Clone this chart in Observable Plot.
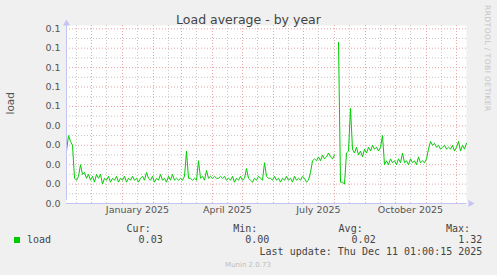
<!DOCTYPE html>
<html>
<head>
<meta charset="utf-8">
<script src="https://cdn.jsdelivr.net/npm/d3@7"></script>
<script src="https://cdn.jsdelivr.net/npm/@observablehq/plot@0.6"></script>
<style>
  html, body { margin: 0; padding: 0; background: #f0f0f0; }
  #chart { width: 497px; height: 275px; position: relative; }
  svg { display: block; }
</style>
</head>
<body>
<div id="chart"></div>
<script>
// ---- data ----
const title = "Load average - by year";
const yAxisTitle = "load";
const seriesName = "load";
const rangeStart = Date.UTC(2024, 10, 6, 1, 0, 15);
const rangeEnd = Date.UTC(2025, 11, 11, 1, 0, 15);
const stepDays = 2;
const loadValues = [
  0.027, 0.035, 0.032, 0.030, 0.013,
  0.012, 0.014, 0.020, 0.015, 0.016, 0.013, 0.015, 0.012, 0.014, 0.011,
  0.015, 0.013, 0.015, 0.010, 0.013, 0.012, 0.014, 0.011, 0.013, 0.012,
  0.014, 0.011, 0.013, 0.012, 0.014, 0.011, 0.013, 0.012, 0.014, 0.012,
  0.013, 0.011, 0.013, 0.014, 0.012, 0.016, 0.013, 0.012, 0.014, 0.011,
  0.013, 0.012, 0.015, 0.012, 0.013, 0.011, 0.014, 0.012, 0.015, 0.012,
  0.013, 0.012, 0.013, 0.012, 0.014, 0.027, 0.013, 0.013, 0.012, 0.013,
  0.012, 0.022, 0.013, 0.014, 0.012, 0.017, 0.013, 0.014, 0.013, 0.014,
  0.013, 0.013, 0.014, 0.013, 0.014, 0.012, 0.013, 0.012, 0.014, 0.011,
  0.013, 0.012, 0.014, 0.012, 0.013, 0.018, 0.013, 0.012, 0.011, 0.013,
  0.012, 0.014, 0.013, 0.012, 0.021, 0.014, 0.013, 0.013, 0.012, 0.014,
  0.012, 0.013, 0.011, 0.013, 0.012, 0.014, 0.012, 0.013, 0.011, 0.014,
  0.012, 0.013, 0.012, 0.014, 0.013, 0.011, 0.012, 0.016, 0.022, 0.023,
  0.022, 0.024, 0.022, 0.025, 0.023, 0.024, 0.026, 0.024, 0.023, 0.025,
  null, 0.083, 0.011, 0.011, 0.010, 0.026, 0.027, 0.049, 0.028, 0.026,
  0.029, 0.025, 0.027, 0.024, 0.028, 0.026, 0.029, 0.027, 0.030, 0.028,
  0.029, 0.027, 0.029, 0.035, 0.020, 0.022, 0.020, 0.023, 0.021, 0.022,
  0.020, 0.023, 0.021, 0.026, 0.021, 0.022, 0.020, 0.023, 0.021, 0.022,
  0.020, 0.024, 0.021, 0.022, 0.021, 0.023, 0.028, 0.032, 0.030, 0.031,
  0.029, 0.030, 0.028, 0.029, 0.030, 0.028, 0.029, 0.028, 0.030, 0.027,
  0.029, 0.032, 0.027, 0.030, 0.028, 0.031
];
const yTicks = [0, 0.01, 0.02, 0.03, 0.04, 0.05, 0.06, 0.07, 0.08, 0.09];
const yTickLabels = ["0.0", "0.0", "0.0", "0.0", "0.0", "0.1", "0.1", "0.1", "0.1", "0.1"];
const yMinorTicks = [0.005, 0.015, 0.025, 0.035, 0.045, 0.055, 0.065, 0.075, 0.085];
const yTop = 0.0917;
const monthStarts = [
  [2024, 11], [2025, 0], [2025, 1], [2025, 2], [2025, 3], [2025, 4], [2025, 5],
  [2025, 6], [2025, 7], [2025, 8], [2025, 9], [2025, 10], [2025, 11]
];
const midMonths = [
  [2024, 10], [2024, 11], [2025, 0], [2025, 1], [2025, 2], [2025, 3], [2025, 4], [2025, 5],
  [2025, 6], [2025, 7], [2025, 8], [2025, 9], [2025, 10]
];
const xLabelMonths = [[2025, 0], [2025, 3], [2025, 6], [2025, 9]];
const xLabels = ["January 2025", "April 2025", "July 2025", "October 2025"];
const legendHeaders = ["Cur:", "Min:", "Avg:", "Max:"];
const legendValues = ["0.03", "0.00", "0.02", "1.32"];
const lastUpdate = "Last update: Thu Dec 11 01:00:15 2025";
const footer = "Munin 2.0.73";
const sideText = "RRDTOOL / TOBI OETIKER";

// ---- build tables ----
const DAY = 864e5;
const data = loadValues.map((v, i) => ({date: new Date(rangeStart + i * stepDays * DAY), v}));
const majorX = monthStarts.map(([y, m]) => new Date(Date.UTC(y, m, 1)));
const minorX = midMonths.map(([y, m]) => new Date(Date.UTC(y, m, 16)));
const labelX = xLabelMonths.map(([y, m], i) => ({date: new Date(Date.UTC(y, m, 16)), text: xLabels[i]}));
const yLab = yTicks.map((t, i) => ({t, text: yTickLabels[i]}));

const axisColor = "#c4c4f4";
const majorGrid = "#e8a4a4";
const minorGrid = "#c6c6c6";
const textColor = "#444";

const chart = Plot.plot({
  width: 497,
  height: 275,
  marginLeft: 66,
  marginRight: 31,
  marginTop: 25,
  marginBottom: 72,
  style: {background: "transparent", fontFamily: "DejaVu Sans", overflow: "visible"},
  x: {type: "utc", domain: [new Date(rangeStart), new Date(rangeEnd)], axis: null},
  y: {domain: [0, yTop], axis: null},
  marks: [
    Plot.frame({fill: "white", stroke: "none"}),
    Plot.ruleY(yMinorTicks, {stroke: minorGrid, strokeDasharray: "1,2"}),
    Plot.ruleX(minorX, {stroke: minorGrid, strokeDasharray: "1,2"}),
    Plot.ruleY(yTicks, {stroke: majorGrid, strokeDasharray: "1,2"}),
    Plot.ruleX(majorX, {stroke: majorGrid, strokeDasharray: "1,2"}),
    Plot.line(data, {x: "date", y: "v", stroke: "#00cc00", strokeWidth: 1}),
    Plot.ruleY([0], {stroke: axisColor}),
    Plot.ruleX([new Date(rangeStart)], {stroke: axisColor, dy: -3}),
    Plot.dot([yTop], {x: () => new Date(rangeStart), y: d => d, symbol: "triangle", r: 2.6, fill: axisColor, stroke: "none", dy: -2}),
    Plot.dot([0], {x: () => new Date(rangeEnd), y: d => d, symbol: "triangle", rotate: 90, r: 2.6, fill: axisColor, stroke: "none", dx: 4}),
    Plot.text(yLab, {y: "t", text: "text", frameAnchor: "left", dx: -6, textAnchor: "end", fontSize: 9.5, fill: "#555"}),
    Plot.text(labelX, {x: "date", text: "text", frameAnchor: "bottom", dy: 9, fontSize: 9.5, fill: "#555"}),
    Plot.text([yAxisTitle], {frameAnchor: "left", dx: -56, rotate: -90, fontSize: 10.5, fill: "#555"})
  ]
});
document.getElementById("chart").appendChild(chart);

// ---- surrounding texts (title, legend, footer) ----
const svg = d3.select(chart);
function addText(x, y, str, opts) {
  const t = svg.append("text").attr("x", x).attr("y", y)
    .attr("text-anchor", opts.anchor || "start")
    .attr("font-family", opts.family || "DejaVu Sans")
    .attr("font-size", opts.size)
    .attr("fill", opts.fill || textColor)
    .text(str);
  if (opts.transform) t.attr("transform", opts.transform);
  if (opts.spacing) t.attr("letter-spacing", opts.spacing);
  return t;
}
addText(248.5, 24, title, {anchor: "middle", size: 12.5, fill: "#444"});
addText(0, 0, sideText, {anchor: "start", size: 7.6, fill: "#c4c4c4", spacing: 0.4, transform: "translate(484.5,5) rotate(90)"});

svg.append("rect").attr("x", 14).attr("y", 237).attr("width", 6).attr("height", 6).attr("fill", "#00cc00");
const mono = "DejaVu Sans Mono";
addText(27, 243, seriesName, {family: mono, size: 10});
const headerEnds = [150.7, 257.3, 362.7, 470];
const valueEnds = [162.7, 269.3, 375.7, 482.3];
legendHeaders.forEach((h, i) => {
  addText(headerEnds[i], 231.5, h, {anchor: "end", family: mono, size: 10});
  addText(valueEnds[i], 243, legendValues[i], {anchor: "end", family: mono, size: 10});
});
addText(482.3, 254.5, lastUpdate, {anchor: "end", family: mono, size: 10});
addText(248, 267, footer, {anchor: "middle", size: 7, fill: "#bdbdbd"});
</script>
</body>
</html>
